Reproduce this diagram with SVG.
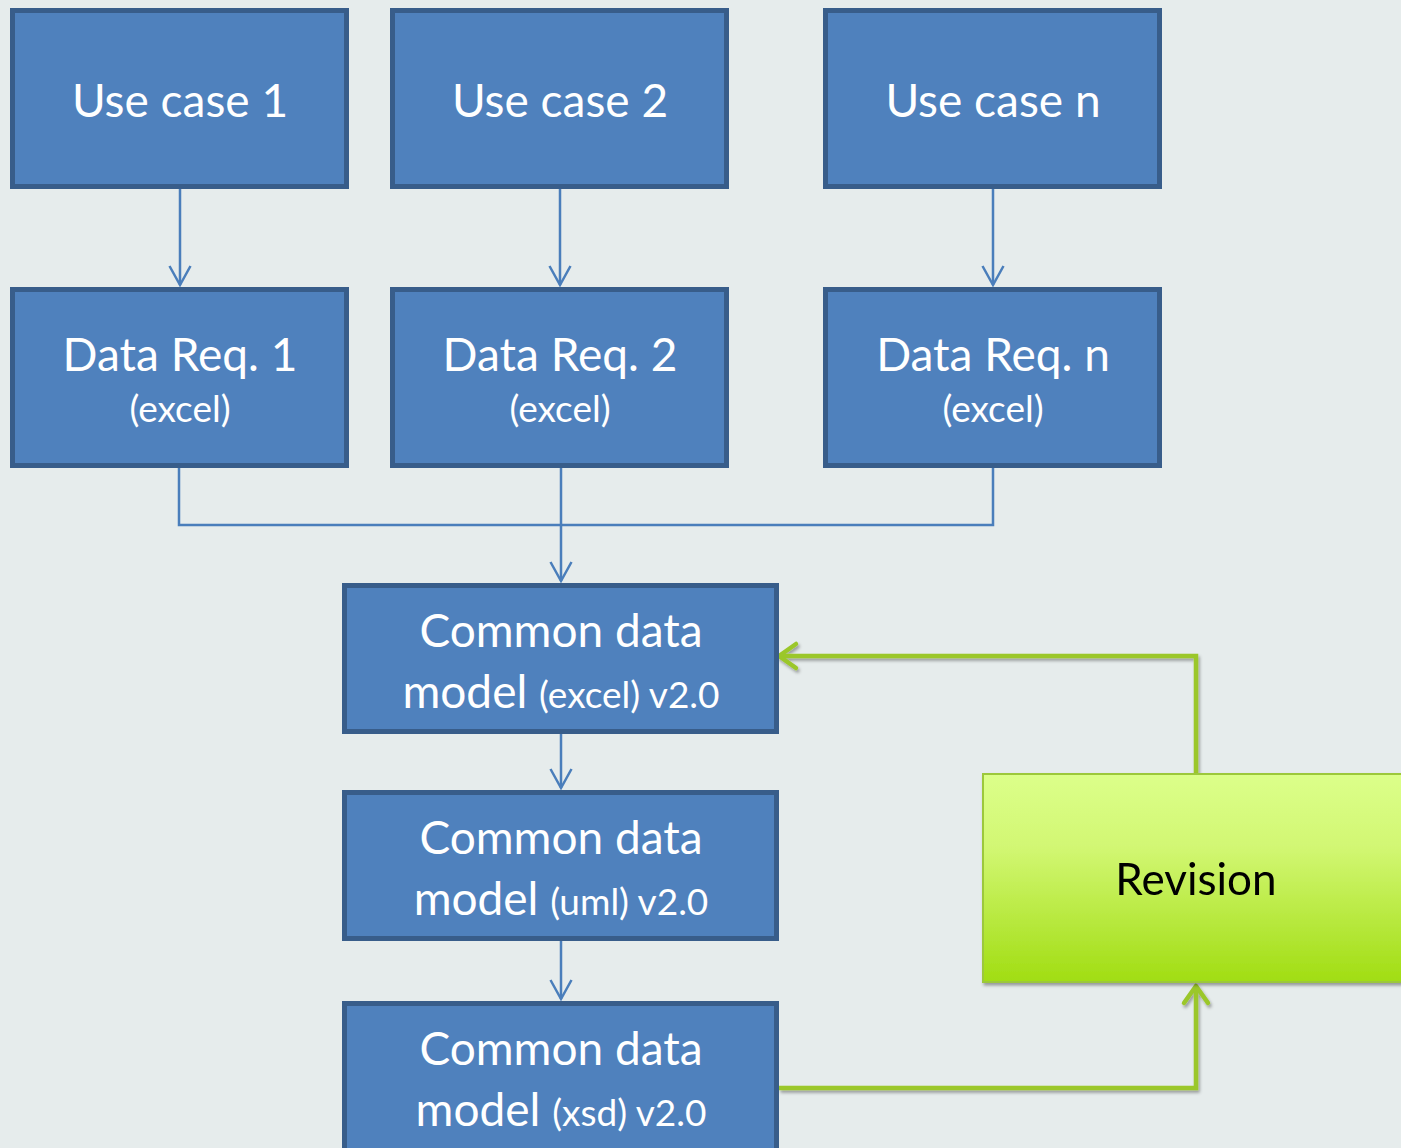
<svg xmlns="http://www.w3.org/2000/svg" width="1401" height="1148" viewBox="0 0 1401 1148">
  <defs>
    <style>
      .box { fill: #4f81bd; stroke: #385d8a; stroke-width: 5; }
      .t { font-family: Lato, "Open Sans", "Liberation Sans", sans-serif; fill: #ffffff; text-anchor: middle; }
      .big { font-size: 46px; }
      .small { font-size: 37px; }
      .link { fill: none; stroke: #4a7ebb; stroke-width: 2.5; }
      .glink { fill: none; stroke: #9bc72b; stroke-width: 4.5; }
    </style>
    <linearGradient id="revFill" x1="0" y1="0" x2="0" y2="1">
      <stop offset="0" stop-color="#dcff8a"/>
      <stop offset="0.35" stop-color="#d2f773"/>
      <stop offset="1" stop-color="#a1dd12"/>
    </linearGradient>
    <!-- open chevron head, drawn along +x so orient="auto" follows the line -->
    <marker id="arrBlue" viewBox="0 0 24 24" refX="21" refY="12" markerWidth="24" markerHeight="24" markerUnits="userSpaceOnUse" orient="auto">
      <path d="M2,1.5 L21,12 L2,22.5" fill="none" stroke="#4a7ebb" stroke-width="2.5"/>
    </marker>
    <filter id="shadow" x="-10%" y="-10%" width="130%" height="130%">
      <feDropShadow dx="1.5" dy="2.5" stdDeviation="1.8" flood-color="#000" flood-opacity="0.35"/>
    </filter>
  </defs>

  <rect width="1401" height="1148" fill="#e6ecec"/>

  <!-- connectors -->
  <g id="connectors">
    <line class="link" x1="180" y1="189" x2="180" y2="285" marker-end="url(#arrBlue)"/>
    <line class="link" x1="560" y1="189" x2="560" y2="285" marker-end="url(#arrBlue)"/>
    <line class="link" x1="993" y1="189" x2="993" y2="285" marker-end="url(#arrBlue)"/>
    <polyline class="link" points="179,467 179,525 993,525 993,467"/>
    <line class="link" x1="561" y1="467" x2="561" y2="581" marker-end="url(#arrBlue)"/>
    <line class="link" x1="561" y1="734" x2="561" y2="788" marker-end="url(#arrBlue)"/>
    <line class="link" x1="561" y1="941" x2="561" y2="999" marker-end="url(#arrBlue)"/>
    <g filter="url(#shadow)">
      <polyline class="glink" points="779,1088 1196,1088 1196,988"/>
      <polyline class="glink" points="1184,1003 1196,986 1208,1003" stroke-linecap="round" stroke-linejoin="round"/>
      <polyline class="glink" points="1196,773 1196,656 780,656"/>
      <polyline class="glink" points="796,644 779,656 796,668" stroke-linecap="round" stroke-linejoin="round"/>
    </g>
  </g>

  <!-- top row -->
  <g id="use-case-1">
    <rect class="box" x="12.5" y="10.5" width="334" height="176"/>
    <text class="t big" x="180" y="117">Use case 1</text>
  </g>
  <g id="use-case-2">
    <rect class="box" x="392.5" y="10.5" width="334" height="176"/>
    <text class="t big" x="560" y="117">Use case 2</text>
  </g>
  <g id="use-case-n">
    <rect class="box" x="825.5" y="10.5" width="334" height="176"/>
    <text class="t big" x="993" y="117">Use case n</text>
  </g>

  <!-- data requirements row -->
  <g id="data-req-1">
    <rect class="box" x="12.5" y="289.5" width="334" height="176"/>
    <text class="t big" x="180" y="371">Data Req. 1</text>
    <text class="t small" x="180" y="422">(excel)</text>
  </g>
  <g id="data-req-2">
    <rect class="box" x="392.5" y="289.5" width="334" height="176"/>
    <text class="t big" x="560" y="371">Data Req. 2</text>
    <text class="t small" x="560" y="422">(excel)</text>
  </g>
  <g id="data-req-n">
    <rect class="box" x="825.5" y="289.5" width="334" height="176"/>
    <text class="t big" x="993" y="371">Data Req. n</text>
    <text class="t small" x="993" y="422">(excel)</text>
  </g>

  <!-- common data model stages -->
  <g id="cdm-excel">
    <rect class="box" x="344.5" y="585.5" width="432" height="146"/>
    <text class="t big" x="561" y="647">Common data</text>
    <text class="t" x="561" y="708"><tspan class="big">model </tspan><tspan class="small">(excel) v2.0</tspan></text>
  </g>
  <g id="cdm-uml">
    <rect class="box" x="344.5" y="792.5" width="432" height="146"/>
    <text class="t big" x="561" y="854">Common data</text>
    <text class="t" x="561" y="915"><tspan class="big">model </tspan><tspan class="small">(uml) v2.0</tspan></text>
  </g>
  <g id="cdm-xsd">
    <rect class="box" x="344.5" y="1003.5" width="432" height="150"/>
    <text class="t big" x="561" y="1065">Common data</text>
    <text class="t" x="561" y="1126"><tspan class="big">model </tspan><tspan class="small">(xsd) v2.0</tspan></text>
  </g>

  <!-- revision -->
  <g id="revision" filter="url(#shadow)">
    <rect x="983" y="774" width="425" height="208" fill="url(#revFill)" stroke="#9cc83a" stroke-width="2"/>
    <text x="1196" y="895" font-family="Lato, 'Open Sans', 'Liberation Sans', sans-serif" font-size="44" fill="#000" text-anchor="middle">Revision</text>
  </g>
</svg>
